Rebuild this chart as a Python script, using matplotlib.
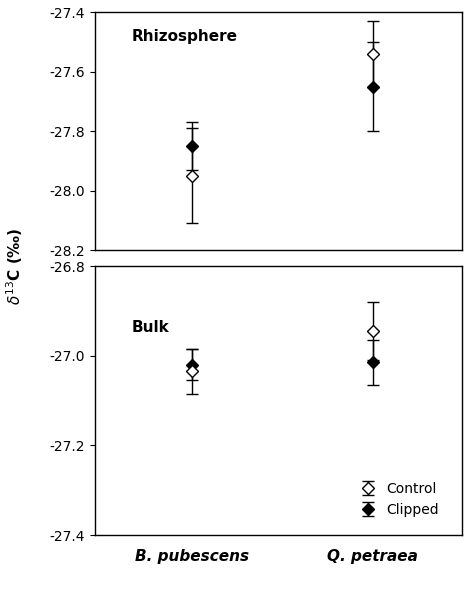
import matplotlib
matplotlib.use("Agg")
import matplotlib.pyplot as plt

species = ["B. pubescens", "Q. petraea"]
rhizo_control = [-27.95, -27.54]
rhizo_control_err = [0.16, 0.11]
rhizo_clipped = [-27.85, -27.65]
rhizo_clipped_err = [0.08, 0.15]
bulk_control = [-27.035, -26.945]
bulk_control_err = [0.05, 0.065]
bulk_clipped = [-27.02, -27.015]
bulk_clipped_err = [0.035, 0.05]

fig = plt.figure(figsize=(4.75, 6.06), dpi=100)
ax1 = fig.add_axes([0.2, 0.587, 0.773, 0.393])
ax2 = fig.add_axes([0.2, 0.117, 0.773, 0.444])
x = [1, 2]


def panel(ax, ctrl, cerr, clip, perr):
    ax.errorbar(x, ctrl, yerr=cerr, fmt="D", ms=6, mfc="white", mec="black",
                ecolor="black", capsize=4, elinewidth=1, zorder=3, label="Control")
    ax.errorbar(x, clip, yerr=perr, fmt="D", ms=6, mfc="black", mec="black",
                ecolor="black", capsize=4, elinewidth=1, zorder=2, label="Clipped")
    ax.set_xlim(0.465, 2.493)
    ax.tick_params(direction="out", labelsize=10)
    for s in ax.spines.values():
        s.set_linewidth(1)


panel(ax1, rhizo_control, rhizo_control_err, rhizo_clipped, rhizo_clipped_err)
panel(ax2, bulk_control, bulk_control_err, bulk_clipped, bulk_clipped_err)

ax1.set_ylim(-28.2, -27.4)
ax1.set_yticks([-28.2, -28.0, -27.8, -27.6, -27.4])
ax1.set_yticklabels([f"{v:.1f}" for v in [-28.2, -28.0, -27.8, -27.6, -27.4]])
ax1.set_xticks([])
ax1.text(0.1, 0.93, "Rhizosphere", transform=ax1.transAxes, fontsize=11,
         fontweight="bold", va="top")

ax2.set_ylim(-27.4, -26.8)
ax2.set_yticks([-27.4, -27.2, -27.0, -26.8])
ax2.set_yticklabels([f"{v:.1f}" for v in [-27.4, -27.2, -27.0, -26.8]])
ax2.set_xticks(x)
ax2.set_xticklabels(species, fontstyle="italic", fontweight="bold", fontsize=11)
ax2.tick_params(axis="x", length=0, pad=10)
ax2.text(0.1, 0.8, "Bulk", transform=ax2.transAxes, fontsize=11,
         fontweight="bold", va="top")
ax2.legend(loc="lower right", frameon=False, fontsize=10, handletextpad=0.3,
           bbox_to_anchor=(0.97, 0.02))

fig.text(0.03, 0.56, r"$\delta^{13}$C (‰)", rotation=90, va="center",
         ha="center", fontsize=11, fontweight="bold")

fig.savefig("out.png", dpi=100, facecolor="white")
